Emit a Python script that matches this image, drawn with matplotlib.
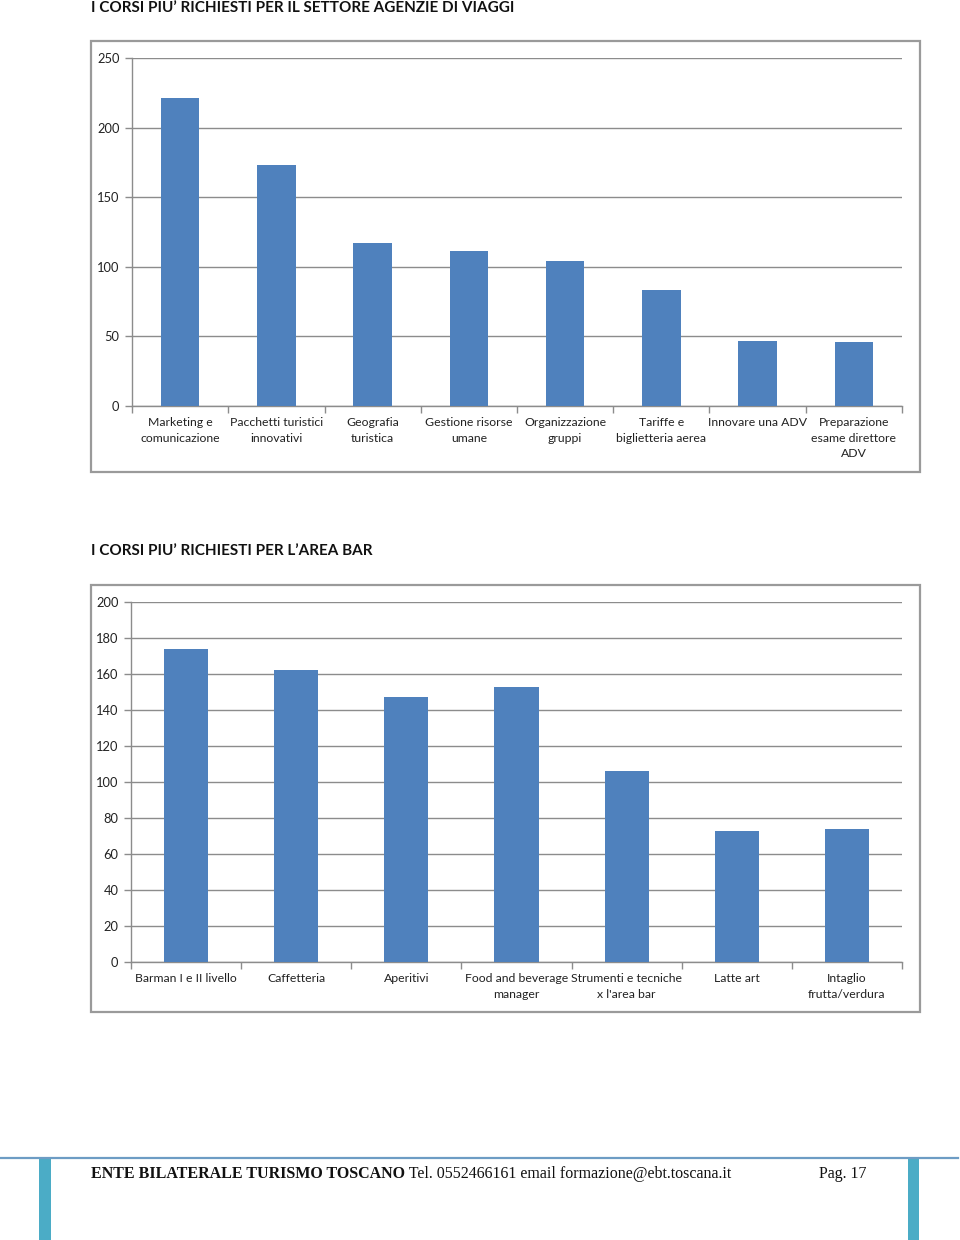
import matplotlib
matplotlib.use("Agg")
import matplotlib.pyplot as plt
from matplotlib.patches import Rectangle
from matplotlib.lines import Line2D
import numpy as np

# ---- data ----
title1 = "I CORSI PIU’ RICHIESTI PER IL SETTORE AGENZIE DI VIAGGI"
cats1 = ["Marketing e\ncomunicazione", "Pacchetti turistici\ninnovativi", "Geografia\nturistica",
         "Gestione risorse\numane", "Organizzazione\ngruppi", "Tariffe e\nbiglietteria aerea",
         "Innovare una ADV", "Preparazione\nesame direttore\nADV"]
vals1 = [221, 173, 117, 111, 104, 83, 47, 46]
yticks1 = [0, 50, 100, 150, 200, 250]

title2 = "I CORSI PIU’ RICHIESTI PER L’AREA BAR"
cats2 = ["Barman I e II livello", "Caffetteria", "Aperitivi", "Food and beverage\nmanager",
         "Strumenti e tecniche\nx l'area bar", "Latte art", "Intaglio\nfrutta/verdura"]
vals2 = [174, 162, 147, 153, 106, 73, 74]
yticks2 = [0, 20, 40, 60, 80, 100, 120, 140, 160, 180, 200]

footer_bold = "ENTE BILATERALE TURISMO TOSCANO"
footer_rest = " Tel. 0552466161 email formazione@ebt.toscana.it"
footer_page = "Pag. 17"

W, H = 960, 1240
BAR = "#4F81BD"
GRID = "#8C8C8C"
FONT = ["Lato", "DejaVu Sans"]
SERIF = ["Liberation Serif", "DejaVu Serif"]

fig = plt.figure(figsize=(W / 100, H / 100), dpi=100)

def fx(x):
    return x / W

def fy(y):
    return 1 - y / H

def frame(x0, y0, x1, y1):
    fig.patches.append(Rectangle((fx(x0), fy(y1)), fx(x1) - fx(x0), fy(y0) - fy(y1),
                                 transform=fig.transFigure, fill=False,
                                 edgecolor="#9a9a9a", linewidth=1.6))

def chart(px0, py0, px1, py1, cats, vals, yticks):
    ax = fig.add_axes([fx(px0), fy(py1), fx(px1) - fx(px0), fy(py0) - fy(py1)])
    n = len(cats)
    x = np.arange(n)
    ax.bar(x, vals, width=0.4, color=BAR, zorder=3)
    ax.set_xlim(-0.5, n - 0.5)
    ax.set_ylim(yticks[0], yticks[-1])
    ax.set_yticks(yticks)
    ax.set_yticklabels([str(t) for t in yticks], fontsize=9.3, family=FONT, color="#222222")
    ax.set_xticks(x)
    ax.set_xticklabels(cats, fontsize=8.8, family=FONT, color="#222222", linespacing=1.5)
    ax.tick_params(axis="x", which="major", length=0, pad=8)
    ax.set_xticks(np.arange(n + 1) - 0.5, minor=True)
    ax.tick_params(axis="x", which="minor", length=5, color=GRID, width=1)
    ax.tick_params(axis="y", length=5, color=GRID, width=1, pad=4)
    ax.grid(axis="y", color=GRID, linewidth=1, zorder=0)
    for s in ["top", "right"]:
        ax.spines[s].set_visible(False)
    for s in ["left", "bottom"]:
        ax.spines[s].set_color(GRID)
        ax.spines[s].set_linewidth(1)
    ax.set_facecolor("none")
    return ax

# chart 1
fig.text(fx(91), fy(8), title1, fontsize=11, fontweight="bold", family=FONT,
         ha="left", va="center", color="#111111")
frame(91, 41, 920, 472)
chart(132, 58, 902, 406, cats1, vals1, yticks1)

# chart 2
fig.text(fx(91), fy(551), title2, fontsize=11, fontweight="bold", family=FONT,
         ha="left", va="center", color="#111111")
frame(91, 585, 920, 1012)
chart(131, 602, 902, 962, cats2, vals2, yticks2)

# footer
fig.lines.append(Line2D([0, fx(958)], [fy(1157.5), fy(1157.5)], transform=fig.transFigure,
                        color="#6d9cc4", linewidth=1.6))
for xl, xr in [(39, 51), (908, 919)]:
    fig.patches.append(Rectangle((fx(xl), 0), fx(xr) - fx(xl), fy(1158), transform=fig.transFigure,
                                 facecolor="#4BACC6", edgecolor="none"))
t = fig.text(fx(91), fy(1174), footer_bold, fontsize=11.5, fontweight="bold",
             family=SERIF, ha="left", va="center", color="#111111")
fig.canvas.draw()
bb = t.get_window_extent()
fig.text(bb.x1 / W, fy(1174), footer_rest, fontsize=11.5,
         family=SERIF, ha="left", va="center", color="#111111")
fig.text(fx(819), fy(1174), footer_page, fontsize=11.5,
         family=SERIF, ha="left", va="center", color="#111111")

fig.savefig("out.png", dpi=100)
